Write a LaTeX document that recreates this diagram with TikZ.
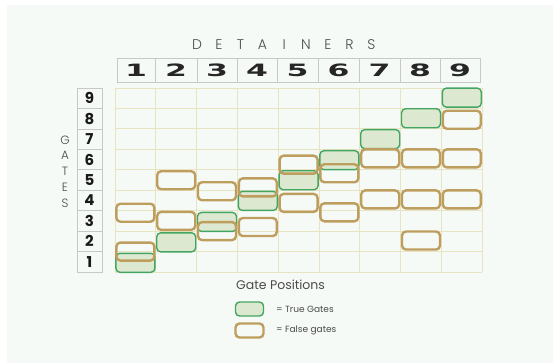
\documentclass[tikz,border=0pt]{standalone}
\usepackage{fontspec}
\setmainfont{Poppins}
\newfontfamily\numfont{DejaVu Sans}
\newfontfamily\lightfont{Poppins Light}
\usetikzlibrary{positioning}
\definecolor{panel}{HTML}{F6FAF7}
\definecolor{gridc}{HTML}{E8E4C2}
\definecolor{cellc}{HTML}{C8C8C8}
\definecolor{greenb}{HTML}{43A562}
\definecolor{greenf}{HTML}{DCE8CF}
\definecolor{tanb}{HTML}{BE9E5E}
\definecolor{txtc}{HTML}{4A4A4A}
\tikzset{
  truebox/.style={draw=greenb, fill=greenf, line width=1.4pt, rounded corners=4pt,
    minimum width=39pt, minimum height=19pt, inner sep=0pt},
  falsebox/.style={draw=tanb, line width=2.4pt, rounded corners=4pt,
    minimum width=38pt, minimum height=18pt, inner sep=0pt},
  gridline/.style={draw=gridc, line width=0.8pt},
  cellbox/.style={draw=cellc, line width=0.6pt},
  detnum/.style={font=\numfont\bfseries\fontsize{17}{17}\selectfont, text=black!85, inner sep=0pt},
  gatenum/.style={font=\bfseries\fontsize{15}{15}\selectfont, text=black!90, inner sep=0pt},
  spaced/.style={font=\lightfont\fontsize{14}{14}\selectfont, text=txtc, inner sep=0pt},
  vert/.style={font=\lightfont\fontsize{12}{12}\selectfont, text=txtc, inner sep=0pt},
}
\begin{document}
\begin{tikzpicture}[x=1pt,y=-1pt]
\useasboundingbox (0,0) rectangle (553,363);
\fill[white] (0,0) rectangle (553,363);
\fill[panel] (7,5) rectangle (553,363);
% grid
\foreach \i in {0,...,9} {
  \draw[gridline] ({115+\i*40.8},88) -- ({115+\i*40.8},272);
  \draw[gridline] (115,{88+\i*20.44}) -- (482,{88+\i*20.44});
}
% detainers header
\foreach \l [count=\i from 0] in {D,E,T,A,I,N,E,R,S}
  \node[spaced] (det\i) at ({197+\i*21.8},45) {\l};
\foreach \a/\b [count=\i] in {117/155,155/197,197/237,237/277,277/318,318/359,359/400,400/440,440/480} {
  \draw[cellbox] (\a,58) rectangle (\b,82);
  \node[detnum] (dn\i) at ({(\a+\b)/2},70.5) {\scalebox{1.85}[1]{\i}};
}
% gates column
\foreach \i in {1,...,9} {
  \draw[cellbox] (77,{272-\i*20.44}) rectangle (102,{272-(\i-1)*20.44});
  \node[gatenum] (gn\i) at (89.5,{272-(\i-0.5)*20.44}) {\i};
}
\foreach \l [count=\i from 0] in {G,A,T,E,S}
  \node[vert] (gl\i) at (65,{140+\i*15.8}) {\l};
% true gates
\foreach \c/\g in {1/0.45,2/1.45,3/2.45,4/3.48,5/4.49,6/5.47,7/6.5,8/7.52,9/8.53}
  \node[truebox] (t\c) at ({115+(\c-0.5)*40.8},{272-\g*20.44}) {};
% false gates
\foreach \c/\g [count=\k] in {1/1.0,1/2.9,2/2.5,2/4.49,3/2.0,3/3.95,4/4.14,4/2.2,5/5.25,5/3.38,6/4.83,6/2.92,7/5.56,7/3.55,8/5.56,8/3.55,8/1.54,9/7.45,9/5.56,9/3.55}
  \node[falsebox] (f\k) at ({115+(\c-0.5)*40.8},{272-\g*20.44}) {};
% legend
\node[anchor=west, font=\fontsize{12.5}{12.5}\selectfont, text=txtc, inner sep=0pt] (title) at (236,285) {Gate Positions};
\node[truebox, minimum width=28pt, minimum height=14pt] (lt) at (249.5,309) {};
\node[falsebox, minimum width=28pt, minimum height=14pt] (lf) at (249.5,330.5) {};
\node[anchor=west, font=\fontsize{9}{9}\selectfont, text=txtc, inner sep=0pt] (ltt) at (276,309) {= True Gates};
\node[anchor=west, font=\fontsize{9}{9}\selectfont, text=txtc, inner sep=0pt] (lft) at (276,330.5) {= False gates};
\end{tikzpicture}
\end{document}
